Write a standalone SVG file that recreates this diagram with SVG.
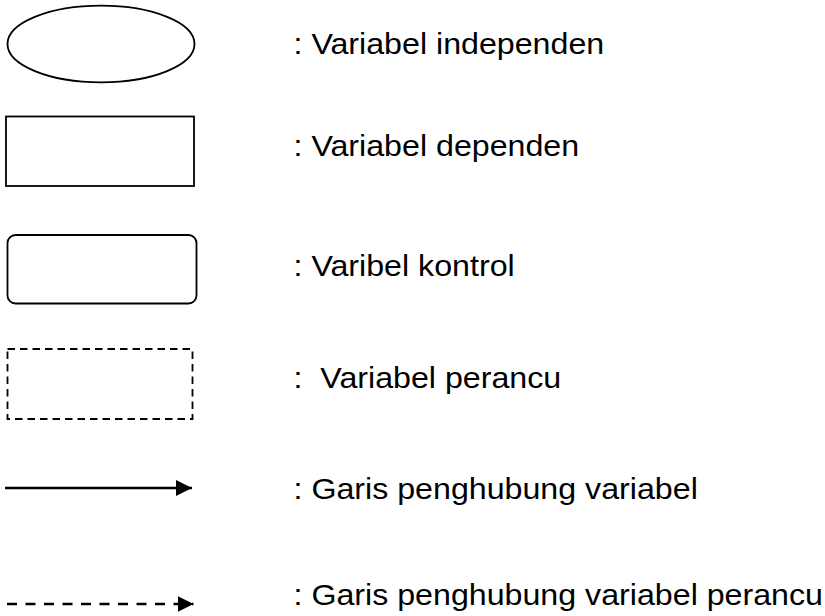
<svg xmlns="http://www.w3.org/2000/svg" width="825" height="616" viewBox="0 0 825 616">
<style>
.shape{fill:none;stroke:#000;stroke-width:1.8}
.dash{stroke-dasharray:7.5 5}
.conn{fill:none;stroke:#000;stroke-width:2.5}
.conn-dash{stroke-dasharray:10 8.5}
.lbl{font-family:"Liberation Sans",Arial,sans-serif;font-size:29px;fill:#000;white-space:pre}
</style>
<defs>
<marker id="ah" viewBox="0 0 16 16" refX="16" refY="8" markerUnits="userSpaceOnUse" markerWidth="16" markerHeight="16" orient="auto">
<path d="M0,0 L16,8 L0,16 Z" fill="#000"/>
</marker>
</defs>
<rect width="825" height="616" fill="#fff"/>
<g id="node-independen"><ellipse class="shape" cx="101" cy="44" rx="93.5" ry="38.3"/></g>
<g id="node-dependen"><rect class="shape" x="6" y="116.5" width="188" height="69.5"/></g>
<g id="node-kontrol"><rect class="shape" x="7.5" y="235" width="189" height="68.5" rx="8" ry="8"/></g>
<g id="node-perancu"><rect class="shape dash" x="7.5" y="349" width="185" height="70"/></g>
<g id="connectors">
<line class="conn" x1="5" y1="488" x2="192" y2="488" marker-end="url(#ah)"/>
<line class="conn conn-dash" x1="7" y1="604" x2="193.5" y2="604" marker-end="url(#ah)"/>
</g>
<g id="labels" transform="translate(293.5,0) scale(1.11,1)">
<text class="lbl" x="0" y="54.5">: Variabel independen</text>
<text class="lbl" x="0" y="156">: Variabel dependen</text>
<text class="lbl" x="0" y="276">: Varibel kontrol</text>
<text class="lbl" x="0" y="388.5" xml:space="preserve">:  Variabel perancu</text>
<text class="lbl" x="0" y="499">: Garis penghubung variabel</text>
<text class="lbl" x="0" y="605">: Garis penghubung variabel perancu</text>
</g>
</svg>
